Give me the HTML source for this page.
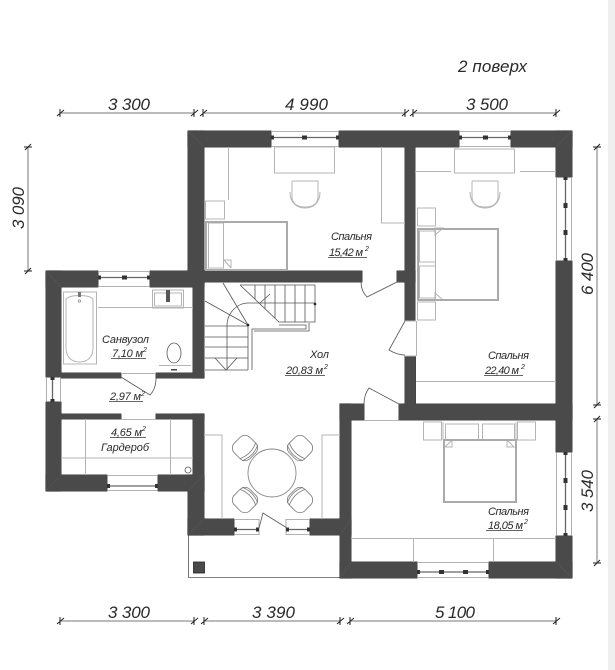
<!DOCTYPE html>
<html><head><meta charset="utf-8"><style>
html,body{margin:0;padding:0;background:#fff}
svg{display:block}
text{font-family:"Liberation Sans Narrow","Liberation Sans","DejaVu Sans",sans-serif;font-style:italic;fill:#2a2a2a}
.d{font-size:17px}.l{font-size:11px}
.g{fill:none;stroke:#b4b4b4;stroke-width:1}
.t{fill:none;stroke:#aaa;stroke-width:2}
.n{fill:none;stroke:#555;stroke-width:.8}
.dim{fill:none;stroke:#777;stroke-width:1}
.tk{fill:none;stroke:#222;stroke-width:1}
.u{stroke:#333;stroke-width:.8}
.w{fill:none;stroke:#999;stroke-width:.8}
.win{stroke:#666;stroke-width:1.300;fill:none}
.b{fill:#333}
</style></head><body>
<svg width="615" height="670" viewBox="0 0 615 670" xmlns="http://www.w3.org/2000/svg">
<defs><g id="walls">
<rect x="188" y="131" width="83" height="16"/><rect x="339" y="131" width="120" height="16"/><rect x="511" y="131" width="61" height="16"/>
<rect x="188" y="131" width="16" height="140"/>
<rect x="405" y="147" width="10" height="174"/><rect x="405" y="356" width="10.500" height="48"/>
<rect x="193" y="271" width="169" height="11"/><rect x="397" y="271" width="18" height="11"/>
<rect x="46" y="271" width="52" height="16"/><rect x="150" y="271" width="54" height="16"/>
<rect x="46" y="271" width="15" height="106"/><rect x="193" y="271" width="11" height="107"/>
<rect x="61" y="373" width="60" height="5"/><rect x="156" y="373" width="48" height="5"/>
<rect x="46" y="402" width="15" height="89"/>
<rect x="61" y="414" width="60" height="5"/><rect x="156" y="414" width="48" height="5"/>
<rect x="193" y="414" width="11" height="77"/>
<rect x="46" y="475" width="61" height="16"/><rect x="158" y="475" width="46" height="16"/>
<rect x="188" y="475" width="16" height="60"/>
<rect x="188" y="519" width="46" height="16"/><rect x="310" y="519" width="41" height="16"/>
<rect x="340" y="404" width="11" height="174"/><rect x="340" y="404" width="24" height="16"/>
<rect x="399" y="404" width="173" height="16"/>
<rect x="556" y="131" width="16" height="46"/><rect x="556" y="261" width="16" height="191"/><rect x="556" y="536" width="16" height="42"/>
<rect x="340" y="562" width="77" height="16"/><rect x="489" y="562" width="83" height="16"/>
</g></defs>
<rect x="608" y="0" width="7" height="670" fill="#efefef"/>

<!-- balcony -->
<path d="M188.500 535V577.500H340" class="n" stroke="#777"/>
<rect x="193.500" y="562" width="11" height="11" fill="#4a4a4a" stroke="#222" stroke-width=".8"/>

<!-- walls -->
<use href="#walls" fill="#111" stroke="#111" stroke-width=".8"/>
<use href="#walls" fill="#4a4a4a"/>
<g stroke="#525252" stroke-width="1" fill="none"><path d="M188 131L204 147M572 131L556 147M46 271L61 287M572 578L556 562M46 491L61 475M204 475L188 491M188 535L204 519M340 535L351 519M340 578L351 562"/></g>

<!-- windows -->
<g class="w">
<path d="M271 131.500H339M271 146.500H339M459 131.500H511M459 146.500H511M98 271.500H150M98 286.500H150M107 475.500H158M107 490.500H158M417 562.500H489M417 577.500H489M556.500 177V261M571.500 177V261M556.500 452V536M571.500 452V536M46.500 377V402M60.500 377V402M234 519.500H259M234 534.500H259M286 519.500H310M286 534.500H310M259 519V535M286 519V535"/>
</g>
<g class="win">
<path d="M271 137.500H339M459 137.500H511M98 277.500H150M107 486H158M417 572H489M565.500 177V261M565.500 452V536M52.500 377V402M234 529.500H259M286 529.500H310"/>
</g>
<g class="b">
<rect x="271" y="135.500" width="3" height="4"/><rect x="302" y="135.500" width="5" height="4"/><rect x="336" y="135.500" width="3" height="4"/>
<rect x="459" y="135.500" width="3" height="4"/><rect x="483" y="135.500" width="5" height="4"/><rect x="508" y="135.500" width="3" height="4"/>
<rect x="98" y="275.500" width="3" height="4"/><rect x="122" y="275.500" width="5" height="4"/><rect x="147" y="275.500" width="3" height="4"/>
<rect x="107" y="484" width="3" height="4"/><rect x="155" y="484" width="3" height="4"/>
<rect x="417" y="570" width="3" height="4"/><rect x="439" y="570" width="5" height="4"/><rect x="463" y="570" width="5" height="4"/><rect x="486" y="570" width="3" height="4"/>
<rect x="563.500" y="177" width="4" height="3"/><rect x="563.500" y="203" width="4" height="5"/><rect x="563.500" y="230" width="4" height="5"/><rect x="563.500" y="258" width="4" height="3"/>
<rect x="563.500" y="452" width="4" height="3"/><rect x="563.500" y="478" width="4" height="5"/><rect x="563.500" y="505" width="4" height="5"/><rect x="563.500" y="533" width="4" height="3"/>
<rect x="50.500" y="377" width="4" height="3"/><rect x="50.500" y="399" width="4" height="3"/>
<rect x="234" y="527.500" width="3" height="4"/><rect x="256" y="527.500" width="3" height="4"/><rect x="286" y="527.500" width="3" height="4"/><rect x="307" y="527.500" width="3" height="4"/>
</g>

<!-- bedroom 1 -->
<g class="g">
<path d="M228.500 147V200M381.500 147V223H405"/>
<rect x="274.500" y="147" width="60" height="26"/>
<rect x="205.500" y="201" width="19" height="18"/>
<path d="M292 181V197C292 204 298 207 305 207C312 207 318 204 318 197V181H292" /><path d="M290 192C290 203 297 208 305 208C313 208 320 203 320 192"/>
<rect x="208.500" y="223" width="15" height="45"/>
<path d="M224 260H231V268M224 260L231 268"/>
</g>
<path class="t" d="M223 222H287V270H206V222H223"/>

<!-- bedroom 2 -->
<g class="g">
<rect x="454.500" y="149" width="60" height="24"/>
<path d="M415 171.500H451M520 171.500H556"/>
<path d="M472 181V197C472 204 478 207 485 207C492 207 498 204 498 197V181H472"/><path d="M470 192C470 203 477 208 485 208C493 208 500 203 500 192"/>
<rect x="417.500" y="208" width="18" height="18"/><rect x="417.500" y="302" width="18" height="18"/>
<rect x="419.500" y="231" width="16" height="31"/><rect x="419.500" y="266" width="16" height="32"/>
<path d="M435 235L443 228H435ZM435 293L443 300H435Z"/>
<path d="M416.500 321V356M416 381.500H556"/>
</g>
<path class="t" d="M418 229H498V300H418Z"/><path class="g" d="M435.500 229V300"/>

<!-- bedroom 3 -->
<g class="g">
<rect x="423.500" y="422" width="18" height="18"/><rect x="517.500" y="422" width="18" height="18"/>
<rect x="445.500" y="424" width="33" height="16"/><rect x="482.500" y="424" width="32" height="16"/>
<path d="M443 440V422M516 440V422"/>
<path d="M351 538.500H556M413.500 538V562M493.500 538V562M364 420.500H399"/>
<path d="M445 447L452 440V447ZM514 447L507 440V447Z"/>
</g>
<rect class="t" x="444" y="440" width="72" height="62"/>

<!-- bath -->
<g class="g">
<rect x="63.500" y="292" width="33" height="72"/>
<path d="M66 300C66 294 93 294 93 300V348C93 360 84 362 79.500 362C75 362 66 360 66 348Z"/>
<path d="M98 307.500H193"/>
<rect x="152.500" y="290" width="31" height="18"/><rect x="154.500" y="293" width="27" height="13"/>
<path d="M159 365.500H191"/>
</g>
<ellipse cx="174" cy="353" rx="7" ry="10" class="n" stroke="#777"/>
<rect x="171" y="369" width="6" height="1.500" fill="#444"/>
<rect x="166" y="290" width="4" height="12" fill="#555"/>
<rect x="78" y="292" width="3" height="5" fill="#777"/><circle cx="79.500" cy="301" r="1.200" fill="none" stroke="#777" stroke-width=".6"/>

<!-- wardrobe -->
<g class="g">
<path d="M85.500 419V475M170.500 419V475M61 458H193M121 419.500H156M121 373.500H156"/>
</g>
<circle cx="188" cy="470" r="3" fill="none" stroke="#555" stroke-width=".8"/>

<!-- doors -->
<g class="n">
<path d="M121 377L150 395C154 391 156 385 156 378"/>
<path d="M397 282L367 297C363 293 361 288 361 282"/>
<path d="M405 321L389 350C394 353 400 355 405 355"/>
<path d="M399 404L369 388C366 392 364 398 364 404"/>
<path d="M287 528L263 513L259 528"/>
</g>
<path d="M405 321L416 321M405 356H416" class="g"/>

<!-- stairs -->
<g class="n">
<path d="M240 285H315V322H279L240 285"/>
<path d="M255 285V299M265 285V309M275 285V318M285 285V322M295 285V322M305 285V322"/>
<path d="M248 303H315M279 325H306V329H252V370M254 331H309V323"/>
<path d="M248 325V370M205 326H248M205 337H248M205 347H248M205 358H248M205 370H248"/>
<path d="M205 301L248 325M223 283L248 325M227 370V326C227 312 238 303 248 303"/>
<path d="M215 358L226 370L237 358M260 303L270 294"/>
</g>
<circle cx="315" cy="304" r="1.300" fill="#222"/><circle cx="248" cy="325" r="1.300" fill="#222"/>

<!-- hall furniture -->
<g class="g">
<path d="M204 435H222V519M340 435H322V519"/>
</g>
<circle cx="272" cy="473" r="24" fill="none" stroke="#888" stroke-width=".9"/>
<g fill="none" stroke="#777" stroke-width=".8">
<g transform="translate(245 448) rotate(-45)"><rect x="-11" y="-11" width="22" height="22" rx="7"/><path d="M-11 4Q0 9 11 4M-11 7Q0 12 11 7"/></g>
<g transform="translate(300 448) rotate(45)"><rect x="-11" y="-11" width="22" height="22" rx="7"/><path d="M-11 4Q0 9 11 4M-11 7Q0 12 11 7"/></g>
<g transform="translate(245 500) rotate(-135)"><rect x="-11" y="-11" width="22" height="22" rx="7"/><path d="M-11 4Q0 9 11 4M-11 7Q0 12 11 7"/></g>
<g transform="translate(300 500) rotate(135)"><rect x="-11" y="-11" width="22" height="22" rx="7"/><path d="M-11 4Q0 9 11 4M-11 7Q0 12 11 7"/></g>
</g>

<!-- dimensions -->
<g class="dim">
<path d="M60 113H194M203 113H405M413 113H556"/>
<path d="M60 621H194M204 621H340M350 621H556"/>
<path d="M28 147V271"/>
<path d="M597 147V405M597 419V563"/>
</g>
<g class="tk">
<path d="M57 116L64 110M60 109V117M191 116L198 110M194 109V117M200 116L207 110M203 109V117M402 116L409 110M405 109V117M410 116L417 110M413 109V117M553 116L560 110M556 109V117"/>
<path d="M57 624L64 618M60 617V625M191 624L198 618M194 617V625M201 624L208 618M204 617V625M337 624L344 618M340 617V625M347 624L354 618M350 617V625M553 624L560 618M556 617V625"/>
<path d="M24 147H32M25 150L31 144M24 271H32M25 274L31 268"/>
<path d="M593 147H601M594 150L600 144M593 405H601M594 408L600 402M593 419H601M594 422L600 416M593 563H601M594 566L600 560"/>
</g>

<!-- labels -->
<text class="d" x="458" y="72" textLength="69">2 поверх</text>
<text class="d" x="108" y="110" textLength="42">3 300</text>
<text class="d" x="285" y="110" textLength="43">4 990</text>
<text class="d" x="466" y="110" textLength="42">3 500</text>
<text class="d" x="108" y="618" textLength="42">3 300</text>
<text class="d" x="252" y="618" textLength="43">3 390</text>
<text class="d" x="435" y="618" textLength="40">5 100</text>
<text class="d" transform="translate(24 229) rotate(-90)" textLength="42">3 090</text>
<text class="d" transform="translate(593 295) rotate(-90)" textLength="42">6 400</text>
<text class="d" transform="translate(593 512) rotate(-90)" textLength="42">3 540</text>

<text class="l" x="331" y="240" textLength="41">Спальня</text>
<text class="l" x="329" y="256" textLength="34">15,42 м</text><text x="365" y="251" font-size="7">2</text>
<path class="u" d="M328 257.500H367"/>
<text class="l" x="488" y="359" textLength="41">Спальня</text>
<text class="l" x="485" y="374" textLength="34">22,40 м</text><text x="521" y="369" font-size="7">2</text>
<path class="u" d="M484 375.500H523"/>
<text class="l" x="488" y="515" textLength="41">Спальня</text>
<text class="l" x="488" y="529" textLength="35">18,05 м</text><text x="524" y="524" font-size="7">2</text>
<path class="u" d="M486 530.500H523"/>
<text class="l" x="102" y="343" textLength="47">Санвузол</text>
<text class="l" x="112" y="357" textLength="31">7,10 м</text><text x="143" y="352" font-size="7">2</text>
<path class="u" d="M111 358.500H146"/>
<text class="l" x="310" y="358" textLength="19">Хол</text>
<text class="l" x="286" y="374" textLength="37">20,83 м</text><text x="324" y="369" font-size="7">2</text>
<path class="u" d="M285 375.500H325"/>
<text class="l" x="110" y="400" textLength="31">2,97 м</text><text x="141" y="396" font-size="7">2</text>
<path class="u" d="M109 401.500H143"/>
<text class="l" x="111" y="436" textLength="31">4,65 м</text><text x="142" y="431" font-size="7">2</text>
<path class="u" d="M110 437.500H146"/>
<text class="l" x="101" y="451" textLength="48">Гардероб</text>
</svg>
</body></html>
